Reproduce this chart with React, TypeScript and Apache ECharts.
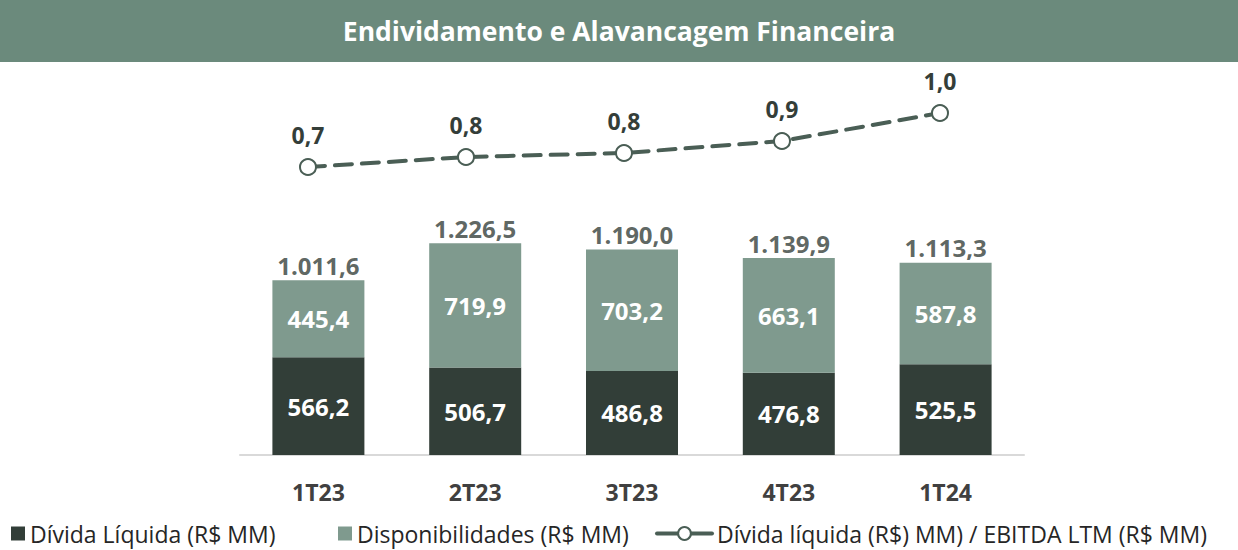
import React, { useEffect, useRef } from "react";
import * as echarts from "echarts";

const categories = ["1T23", "2T23", "3T23", "4T23", "1T24"];
const dividaLiquida = [566.2, 506.7, 486.8, 476.8, 525.5];
const disponibilidades = [445.4, 719.9, 703.2, 663.1, 587.8];
const totais = [1011.6, 1226.5, 1190.0, 1139.9, 1113.3];
const alavancagem = [0.74, 0.79, 0.81, 0.87, 1.01];

const nameDivida = "Dívida Líquida (R$ MM)";
const nameDisp = "Disponibilidades (R$ MM)";
const nameAlav = "Dívida líquida (R$) MM) / EBITDA LTM (R$ MM)";

const FONT = "'Open Sans', 'Noto Sans', sans-serif";

function fmtBR(v: number, d = 1): string {
  const [i, f] = v.toFixed(d).split(".");
  const intPart = i.replace(/\B(?=(\d{3})+(?!\d))/g, ".");
  return f ? intPart + "," + f : intPart;
}

export default function App() {
  const ref = useRef<HTMLDivElement>(null);
  useEffect(() => {
    document.body.style.margin = "0";
    if (!ref.current) return;
    const chart = echarts.init(ref.current, undefined, { renderer: "svg" });
    const legendText = { fontFamily: FONT, fontSize: 23, color: "#262626" };
    const inner = {
      show: true,
      position: "inside",
      formatter: (p: any) => fmtBR(p.value),
      fontFamily: FONT,
      fontSize: 24,
      fontWeight: "bold",
      color: "#ffffff",
    };
    chart.setOption({
      animation: false,
      backgroundColor: "#ffffff",
      graphic: [
        {
          type: "rect",
          shape: { x: 0, y: 0, width: 1238, height: 62 },
          style: { fill: "#6B8A7C" },
          z: -1,
        },
      ],
      title: {
        text: "Endividamento e Alavancagem Financeira",
        left: "center",
        top: 12,
        textStyle: { color: "#ffffff", fontFamily: FONT, fontSize: 26.5, fontWeight: "bold" },
      },
      legend: [
        {
          data: [nameDivida],
          left: 11,
          top: 522,
          icon: "rect",
          itemWidth: 14,
          itemHeight: 14,
          padding: 0,
          textStyle: legendText,
        },
        {
          data: [nameDisp],
          left: 338,
          top: 522,
          icon: "rect",
          itemWidth: 14,
          itemHeight: 14,
          padding: 0,
          textStyle: legendText,
        },
        {
          data: [nameAlav],
          left: 655,
          top: 522,
          itemWidth: 55,
          itemHeight: 16,
          padding: 0,
          lineStyle: { type: "solid", width: 4 },
          textStyle: legendText,
        },
      ],
      grid: [
        { left: 240, width: 784, top: 75, height: 380 },
        { left: 229, width: 790, top: 75, height: 380 },
      ],
      xAxis: [
        {
          type: "category",
          data: categories,
          gridIndex: 0,
          axisLine: { lineStyle: { color: "#D9D9D9", width: 2 } },
          axisTick: { show: false },
          axisLabel: {
            margin: 25,
            fontFamily: FONT,
            fontSize: 23,
            fontWeight: "bold",
            color: "#404040",
          },
        },
        {
          type: "category",
          data: categories,
          gridIndex: 1,
          show: false,
        },
      ],
      yAxis: [
        { type: "value", gridIndex: 0, min: 0, max: 2200, show: false, splitLine: { show: false } },
        { type: "value", gridIndex: 1, min: -0.7, max: 1.2, show: false, splitLine: { show: false } },
      ],
      series: [
        {
          name: nameDivida,
          type: "bar",
          stack: "total",
          data: dividaLiquida,
          barWidth: 92,
          itemStyle: { color: "#323E38" },
          label: inner,
        },
        {
          name: nameDisp,
          type: "bar",
          stack: "total",
          data: disponibilidades,
          barWidth: 92,
          itemStyle: { color: "#7F9A8E" },
          label: inner,
        },
        {
          name: "Total",
          type: "scatter",
          data: totais,
          symbolSize: 0,
          silent: true,
          label: {
            show: true,
            position: "top",
            distance: 3,
            formatter: (p: any) => fmtBR(p.value),
            fontFamily: FONT,
            fontSize: 24,
            fontWeight: "bold",
            color: "#343E39",
          },
        },
        {
          name: nameAlav,
          type: "line",
          xAxisIndex: 1,
          yAxisIndex: 1,
          data: alavancagem,
          symbol: "circle",
          symbolSize: 16,
          itemStyle: { color: "#ffffff", borderColor: "#4A5E55", borderWidth: 2 },
          lineStyle: { color: "#4A5E55", width: 4, type: [17, 10], cap: "round" },
          label: {
            show: true,
            position: "top",
            distance: 12,
            formatter: (p: any) => fmtBR(p.value),
            fontFamily: FONT,
            fontSize: 23,
            fontWeight: "bold",
            color: "#343E39",
          },
          z: 5,
        },
      ],
    });
    return () => chart.dispose();
  }, []);
  return <div ref={ref} style={{ width: 1238, height: 550 }} />;
}
